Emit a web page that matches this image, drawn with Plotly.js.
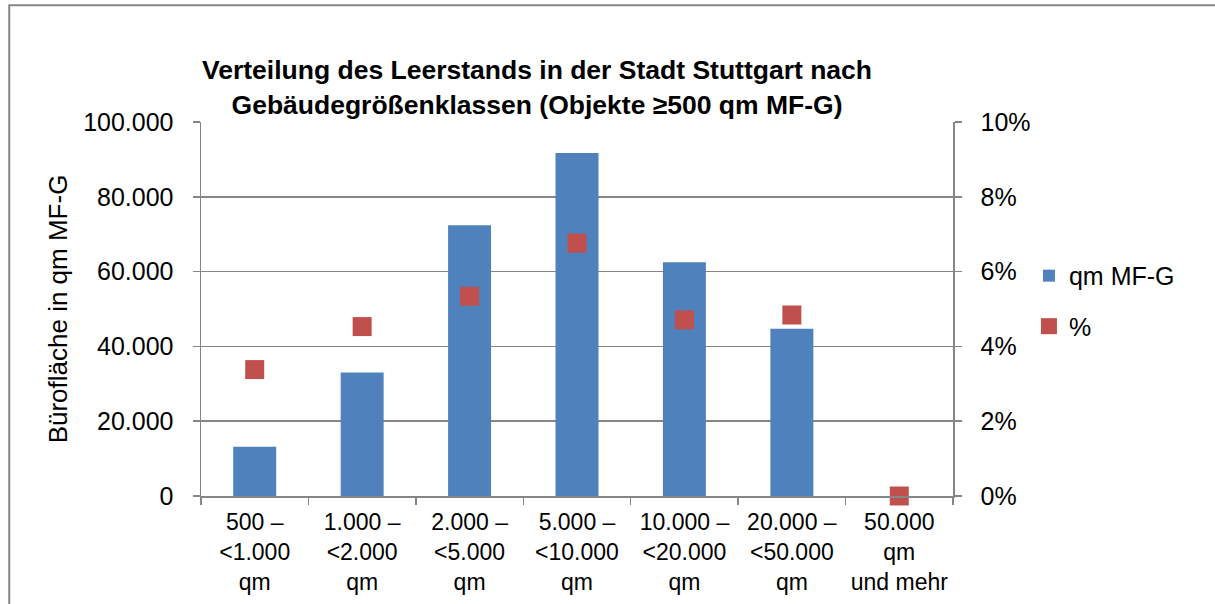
<!DOCTYPE html>
<html>
<head>
<meta charset="utf-8">
<script src="https://cdn.plot.ly/plotly-3.0.1.min.js"></script>
<style>
  html, body { margin: 0; padding: 0; background: #fff; }
  #chart { width: 1215px; height: 604px; }
</style>
</head>
<body>
<div id="chart"></div>
<script>
// Größenklassen (x-Achse)
let klassen = [
  "500 –<br><1.000<br>qm",
  "1.000 –<br><2.000<br>qm",
  "2.000 –<br><5.000<br>qm",
  "5.000 –<br><10.000<br>qm",
  "10.000 –<br><20.000<br>qm",
  "20.000 –<br><50.000<br>qm",
  "50.000<br>qm<br>und mehr"
];
// Leerstand in qm MF-G (linke Achse)
let flaeche = [13200, 33000, 72400, 91700, 62500, 44700, 0];
// Leerstandsquote (rechte Achse)
let quote = [0.0338, 0.0453, 0.0534, 0.0676, 0.0471, 0.0484, 0];

let grau = "#868686";
let schrift = "Liberation Sans, Arial, sans-serif";

let balken = {
  type: 'bar',
  name: 'qm MF-G',
  x: klassen,
  y: flaeche,
  width: 0.4,
  legendgroup: 'a',
  marker: { color: '#4F81BD', line: { width: 0 } }
};

let punkte = {
  type: 'scatter',
  mode: 'markers',
  name: '%',
  x: klassen,
  y: quote,
  yaxis: 'y2',
  legendgroup: 'b',
  cliponaxis: false,
  marker: { symbol: 'square', size: 19, color: '#C0504D' }
};

let layout = {
  width: 1215,
  height: 604,
  separators: ',.',
  paper_bgcolor: '#fff',
  plot_bgcolor: '#fff',
  font: { family: schrift, size: 25, color: '#000' },
  margin: { l: 201, r: 262, t: 122, b: 108, pad: 0 },
  title: {
    text: 'Verteilung des Leerstands in der Stadt Stuttgart nach<br>Gebäudegrößenklassen (Objekte ≥500 qm MF-G)',
    font: { family: schrift, size: 26.5, color: '#000', weight: 'bold' },
    xref: 'container', yref: 'container',
    x: 0.442, xanchor: 'center',
    y: 0.869, yanchor: 'middle'
  },
  xaxis: {
    type: 'category',
    tickson: 'boundaries',
    ticks: 'outside',
    ticklen: 7,
    tickcolor: grau,
    tickwidth: 1.5,
    showline: true,
    linecolor: grau,
    linewidth: 1.5,
    showgrid: false,
    tickfont: { size: 23 },
    ticklabelstandoff: 5
  },
  yaxis: {
    range: [0, 100000],
    dtick: 20000,
    tickformat: ',d',
    ticks: 'outside',
    ticklen: 7,
    tickcolor: grau,
    tickwidth: 1.5,
    showline: true,
    linecolor: grau,
    linewidth: 1.5,
    showgrid: true,
    gridcolor: grau,
    gridwidth: 1.5,
    zeroline: false,
    ticklabelstandoff: 14,
    title: { text: 'Bürofläche in qm MF-G', font: { size: 26 }, standoff: 8 }
  },
  yaxis2: {
    overlaying: 'y',
    side: 'right',
    range: [0, 0.1],
    dtick: 0.02,
    tickformat: '.0%',
    ticks: 'outside',
    ticklen: 7,
    tickcolor: grau,
    tickwidth: 1.5,
    showline: true,
    linecolor: grau,
    linewidth: 1.5,
    showgrid: false,
    zeroline: false,
    ticklabelstandoff: 14
  },
  showlegend: true,
  legend: {
    x: 1.101, xanchor: 'left',
    y: 0.65, yanchor: 'top',
    traceorder: 'grouped',
    tracegroupgap: 15,
    font: { size: 25 },
    bgcolor: 'rgba(0,0,0,0)',
    itemwidth: 30
  },
  shapes: [{
    type: 'rect', xref: 'paper', yref: 'paper',
    x0: -0.255, x1: 1.36, y0: -0.4, y1: 1.3125,
    line: { color: grau, width: 2 }, fillcolor: 'rgba(0,0,0,0)', layer: 'below'
  }]
};

Plotly.newPlot('chart', [balken, punkte], layout, { displayModeBar: false, staticPlot: true });
</script>
</body>
</html>
